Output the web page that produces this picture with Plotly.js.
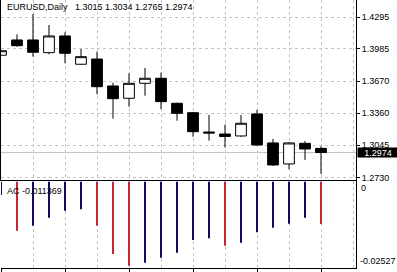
<!DOCTYPE html>
<html><head><meta charset="utf-8">
<script src="https://cdn.plot.ly/plotly-3.0.1.min.js"></script>
<style>html,body{margin:0;padding:0;background:#fff;overflow:hidden}#chart{width:397px;height:272px}</style>
</head><body><div id="chart"></div>
<script>
const symbol = 'EURUSD';
const period = 'Daily';
const bars   = [0, 1, 2, 3, 4, 5, 6, 7, 8, 9, 10, 11, 12, 13, 14, 15, 16, 17, 18, 19, 20];
const openP  = [1.3924, 1.4073, 1.4073, 1.3949, 1.4112, 1.3836, 1.3887, 1.3624, 1.3504, 1.3650, 1.3699, 1.3455, 1.3363, 1.3175, 1.3155, 1.3136, 1.3351, 1.3068, 1.2863, 1.3064, 1.3015];
const highP  = [1.3975, 1.4128, 1.4327, 1.4219, 1.4148, 1.3985, 1.3959, 1.3656, 1.3748, 1.3800, 1.3754, 1.3460, 1.3370, 1.3341, 1.3248, 1.3341, 1.3390, 1.3107, 1.3075, 1.3087, 1.3034];
const lowP   = [1.3920, 1.4007, 1.3910, 1.3933, 1.3845, 1.3830, 1.3543, 1.3305, 1.3422, 1.3529, 1.3399, 1.3285, 1.3129, 1.3090, 1.3024, 1.3126, 1.3040, 1.2843, 1.2811, 1.2902, 1.2765];
const closeP = [1.3968, 1.4017, 1.3953, 1.4112, 1.3943, 1.3910, 1.3617, 1.3500, 1.3650, 1.3699, 1.3471, 1.3357, 1.3178, 1.3165, 1.3131, 1.3260, 1.3048, 1.2853, 1.3068, 1.3009, 1.2974];
const acValues = [-0.0036, -0.01316, -0.01182, -0.00968, -0.00781, -0.00744, -0.01182, -0.01939, -0.02252, -0.02172, -0.02038, -0.01905, -0.01565, -0.01519, -0.01717, -0.01637, -0.01359, -0.01236, -0.01130, -0.00968, -0.011369];
const priceTicks = [1.4295, 1.3985, 1.3670, 1.3360, 1.3045, 1.2730];
const acScaleLabels = ['0', '-0.02527'];

const FONT = 'Liberation Sans, Arial, sans-serif';
const GRID = '#c4c4c4';
const DASH = '3px,3px';
const NAVY = '#0c0c58';
const RED = '#c4262e';
const xRange = [0, 22.1875];
const priceRange = [1.2711, 1.4463];
const acRange = [-0.02314, 0];
const priceDomain = [0.3302, 1];
const acDomain = [0, 0.3228];

const last = bars.length - 1;
const acColors = acValues.map((v, i) => (i > 0 && v < acValues[i - 1]) ? RED : NAVY);

const candle = {
  type: 'candlestick', x: bars, open: openP, high: highP, low: lowP, close: closeP,
  xaxis: 'x', yaxis: 'y', whiskerwidth: 0,
  increasing: {line: {color: '#000', width: 1}, fillcolor: '#fff'},
  decreasing: {line: {color: '#000', width: 1}, fillcolor: '#000'},
  hoverinfo: 'skip', showlegend: false
};
const ac = {
  type: 'bar', x: bars, y: acValues, xaxis: 'x2', yaxis: 'y2', width: 0.125,
  marker: {color: acColors, line: {width: 0}}, hoverinfo: 'skip', showlegend: false
};

const titleText = symbol + ',' + period + '\u00a0\u00a0\u00a0' +
  [openP[last], highP[last], lowP[last], closeP[last]].map(v => v.toFixed(4)).join(' ');

const layout = {
  width: 397, height: 272,
  margin: {l: 1, r: 41, t: 0, b: 4, pad: 0},
  paper_bgcolor: '#fff', plot_bgcolor: '#fff',
  showlegend: false, hovermode: false,
  boxgap: 0.33, boxgroupgap: 0,
  font: {family: FONT, size: 9, color: '#000'},
  xaxis: {
    domain: [0, 1], range: xRange, anchor: 'y', rangeslider: {visible: false},
    showticklabels: false, ticks: '', tick0: 0, dtick: 2,
    showgrid: true, gridcolor: GRID, griddash: DASH, gridwidth: 1, zeroline: false,
    showline: true, linecolor: '#000', linewidth: 1
  },
  yaxis: {
    domain: priceDomain, range: priceRange, anchor: 'x', side: 'right',
    tickmode: 'array', tickvals: priceTicks, ticktext: priceTicks.map(v => v.toFixed(4)),
    ticks: 'outside', ticklen: 3, tickcolor: '#000', tickfont: {family: FONT, size: 9, color: '#000'},
    showgrid: true, gridcolor: GRID, griddash: DASH, zeroline: false,
    showline: true, mirror: true, linecolor: '#000', linewidth: 1
  },
  xaxis2: {
    domain: [0, 1], range: xRange, anchor: 'y2',
    showticklabels: false, ticks: 'outside', ticklen: 4, tickcolor: '#000', tick0: 0, dtick: 4,
    showgrid: true, gridcolor: GRID, griddash: DASH, zeroline: false,
    minor: {tick0: 0, dtick: 2, showgrid: true, gridcolor: GRID, griddash: DASH, ticks: ''},
    showline: true, mirror: true, linecolor: '#000', linewidth: 1
  },
  yaxis2: {
    domain: acDomain, range: acRange, anchor: 'x2', side: 'right',
    showticklabels: false, ticks: '', showgrid: false, zeroline: false,
    showline: true, linecolor: '#000', linewidth: 1
  },
  shapes: [
    {type: 'line', xref: 'paper', x0: 0, x1: 1, yref: 'y', y0: closeP[last], y1: closeP[last],
     line: {color: '#c0c0c0', width: 1}, layer: 'below'}
  ],
  annotations: [
    {xref: 'paper', x: 0, xanchor: 'left', xshift: 5, yref: 'paper', y: 1, yanchor: 'top', yshift: -1,
     text: titleText, showarrow: false, borderpad: 0, font: {family: FONT, size: 9, color: '#000'}},
    {xref: 'paper', x: 0, xanchor: 'left', xshift: 5, yref: 'paper', y: acDomain[1], yanchor: 'top', yshift: -4,
     text: 'AC ' + acValues[last].toFixed(6), showarrow: false, borderpad: 0, font: {family: FONT, size: 9, color: '#000'}},
    {xref: 'paper', x: 1, xanchor: 'left', xshift: 4, yref: 'y2', y: acRange[1], yanchor: 'top', yshift: -1,
     text: acScaleLabels[0], showarrow: false, borderpad: 0, font: {family: FONT, size: 9, color: '#000'}},
    {xref: 'paper', x: 1, xanchor: 'left', xshift: 3, yref: 'y2', y: acRange[0], yanchor: 'bottom', yshift: 1,
     text: acScaleLabels[1], showarrow: false, borderpad: 0, font: {family: FONT, size: 9, color: '#000'}},
    {xref: 'paper', x: 1, xanchor: 'left', xshift: 1, yref: 'y', y: closeP[last], yanchor: 'middle',
     text: closeP[last].toFixed(4), showarrow: false, borderpad: 0, width: 40, height: 9, align: 'center',
     bgcolor: '#000', font: {family: FONT, size: 9, color: '#fff'}}
  ]
};

Plotly.newPlot('chart', [candle, ac], layout, {staticPlot: true, displayModeBar: false});
</script>
</body></html>
